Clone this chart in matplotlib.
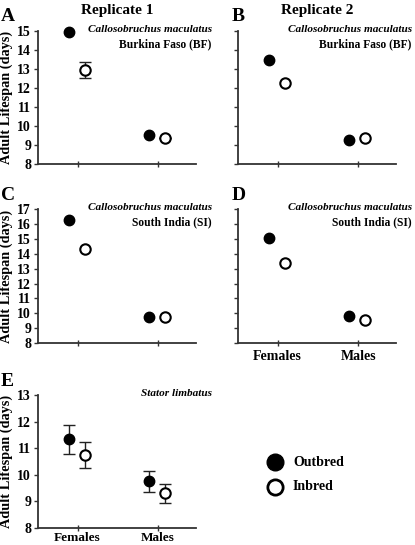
import matplotlib
matplotlib.use("Agg")
import matplotlib.pyplot as plt

plt.rcParams['font.family'] = ['Liberation Serif', 'DejaVu Serif']
plt.rcParams['font.weight'] = 'bold'

# data
sexes = ["Females", "Males"]

A_out = [14.92, 9.52]
A_in = [12.93, 9.34]
A_in_err = [0.41, 0]

B_out = [13.44, 9.28]
B_in = [12.25, 9.37]

C_out = [16.26, 9.75]
C_in = [14.35, 9.75]

D_out = [15.05, 9.84]
D_in = [13.41, 9.55]

E_out = [11.33, 9.75]
E_in = [10.75, 9.31]
E_out_err = [0.55, 0.39]
E_in_err = [0.49, 0.36]

W, H = 415, 545
fig = plt.figure(figsize=(W / 100, H / 100), dpi=100)


def make_ax(x0, y_top, y_bot, w=158):
    return fig.add_axes([x0 / W, 1 - y_bot / H, w / W, (y_bot - y_top) / H])


def panel(ax, out, inb, ylim, letter, species, place=None,
          out_err=None, in_err=None, ylabel=True, xlabels=False):
    x = [1, 2]
    xo = [v - 0.11 for v in x]
    xi = [v + 0.09 for v in x]
    if out_err is not None:
        ax.errorbar(xo, out, yerr=out_err, fmt='none', ecolor='#222222',
                    elinewidth=1, capsize=4, capthick=1, zorder=2)
    if in_err is not None:
        ax.errorbar(xi, inb, yerr=in_err, fmt='none', ecolor='#222222',
                    elinewidth=1, capsize=4, capthick=1, zorder=2)
    ax.plot(xo, out, 'o', ms=7.5, mfc='black', mec='black', ls='none',
            zorder=3, clip_on=False)
    ax.plot(xi, inb, 'o', ms=7.5, mfc='white', mec='black', mew=1.5, ls='none',
            zorder=3, clip_on=False)
    ax.set_xlim(0.51, 2.47)
    ax.set_ylim(*ylim)
    ax.set_yticks(range(ylim[0], ylim[1] + 1))
    ax.set_xticks(x)
    ax.spines['top'].set_visible(False)
    ax.spines['right'].set_visible(False)
    for s in ['left', 'bottom']:
        ax.spines[s].set_linewidth(1.3)
        ax.spines[s].set_color('#333333')
    ax.tick_params(axis='y', direction='out', length=3, width=1, colors='#333333',
                   labelcolor='black', labelsize=10, pad=2)
    ax.tick_params(axis='x', direction='inout', length=4, width=1, colors='#333333',
                   labelcolor='black', labelsize=10, pad=3)
    if xlabels:
        ax.set_xticklabels(sexes, fontsize=10, fontweight='bold')
    else:
        ax.set_xticklabels([])
    if not ylabel:
        ax.set_yticklabels([])
    else:
        ax.set_ylabel("Adult Lifespan (days)", fontsize=10.3, fontweight='bold', labelpad=3)
    for lab in ax.get_yticklabels() + ax.get_xticklabels():
        lab.set_fontweight('bold')
    ax.text(-0.235 if ylabel else -0.04, 1.04, letter, transform=ax.transAxes,
            fontsize=14, fontweight='bold', ha='left', va='bottom')
    ax.text(1.1, 1.01, species, transform=ax.transAxes, fontsize=8.1,
            fontweight='bold', style='italic', ha='right', va='center')
    if place:
        ax.text(1.1, 0.9, place, transform=ax.transAxes, fontsize=8.3,
                fontweight='bold', ha='right', va='center')


axA = make_ax(38, 30.7, 164)
axB = make_ax(238, 30.7, 164)
axC = make_ax(38, 209.3, 343)
axD = make_ax(238, 209.3, 343)
axE = make_ax(38, 395, 528)

panel(axA, A_out, A_in, (8, 15), "A", "Callosobruchus maculatus", "Burkina Faso (BF)",
      in_err=A_in_err)
panel(axB, B_out, B_in, (8, 15), "B", "Callosobruchus maculatus", "Burkina Faso (BF)",
      ylabel=False)
panel(axC, C_out, C_in, (8, 17), "C", "Callosobruchus maculatus", "South India (SI)")
panel(axD, D_out, D_in, (8, 17), "D", "Callosobruchus maculatus", "South India (SI)",
      ylabel=False, xlabels=True)
panel(axE, E_out, E_in, (8, 13), "E", "Stator limbatus", out_err=E_out_err,
      in_err=E_in_err, xlabels=True)
axE.tick_params(axis='x', pad=1, labelsize=9.5)

axA.set_title("Replicate 1", fontsize=11, fontweight='bold', pad=12)
axB.set_title("Replicate 2", fontsize=11, fontweight='bold', pad=12)

# legend
fig.text(293 / W, 1 - 462 / H, "Outbred", fontsize=10, fontweight='bold', va='center')
fig.text(293 / W, 1 - 487 / H, "Inbred", fontsize=10, fontweight='bold', va='center')
leg_ax = fig.add_axes([0, 0, 1, 1], facecolor='none')
leg_ax.set_xlim(0, W)
leg_ax.set_ylim(H, 0)
leg_ax.axis('off')
leg_ax.plot([275], [462], 'o', ms=12, mfc='black', mec='black')
leg_ax.plot([275], [487], 'o', ms=11, mfc='white', mec='black', mew=2)

fig.savefig("out.png", dpi=100)
